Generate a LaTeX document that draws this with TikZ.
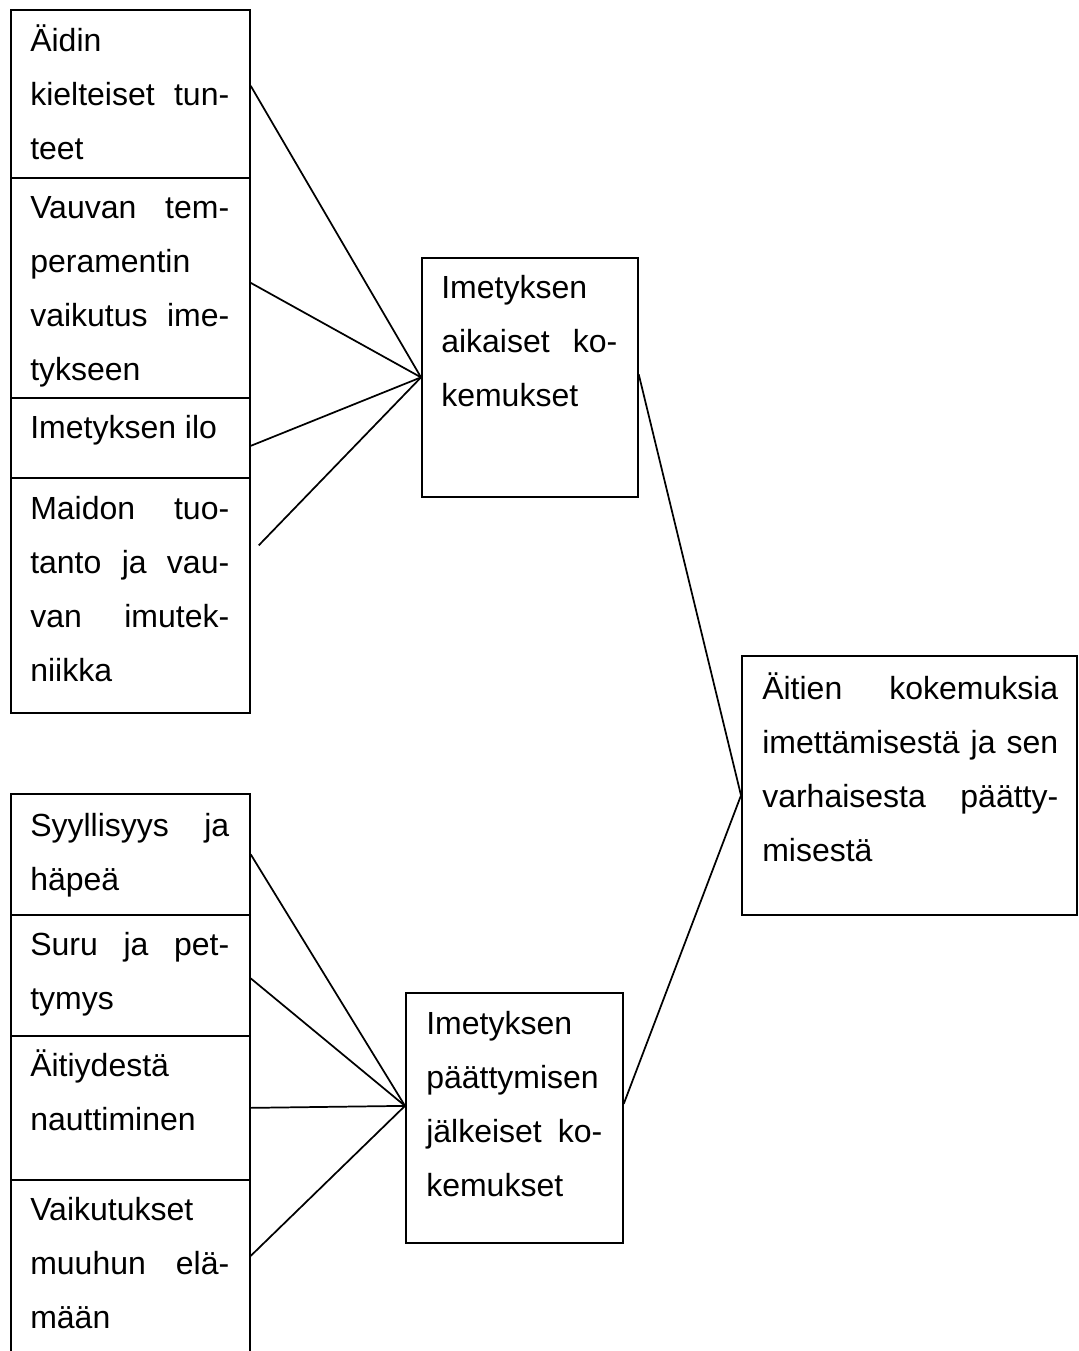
\documentclass[tikz,border=0pt]{standalone}
\usepackage{fontspec}
\setmainfont{Liberation Sans}
\usetikzlibrary{positioning, calc}
\newdimen\pxu \pxu=0.75pt
\pretolerance=10000
\hbadness=10000

\begin{document}
\begin{tikzpicture}[x=0.75pt, y=-0.75pt,
	cell/.style 2 args={draw, line width=1.3pt, inner sep=0pt, anchor=north west,
		minimum width=#1\pxu, minimum height=#2\pxu},
	txt/.style={anchor=base west, inner sep=0pt, text width=#1\pxu, align=justify,
		font=\fontsize{24}{40.5}\selectfont},
	link/.style={line width=1.3pt}]
	\useasboundingbox (0,0) rectangle (1078,1351);
	% first group, boxes stacked
	\node[cell={239}{168}] (kielB) at (10,9) {};
	\node[cell={239}{220}] (tempB) at (10,177) {};
	\node[cell={239}{80}] (iloB) at (10,397) {};
	\node[cell={239}{235}] (maitoB) at (10,477) {};
	\node[txt=199] (kiel) at ($(kielB.north west)+(20,43)$) {Äidin\newline kielteiset tun-\linebreak teet};
	\node[txt=199] (temp) at ($(tempB.north west)+(20,42)$) {Vauvan tem-\linebreak peramentin\newline vaikutus ime-\linebreak tykseen};
	\node[txt=199] (ilo) at ($(iloB.north west)+(20,41)$) {Imetyksen ilo};
	\node[txt=199] (maito) at ($(maitoB.north west)+(20,42)$) {Maidon tuo-\linebreak tanto ja vau-\linebreak van imutek-\linebreak niikka};
	% second group
	\node[cell={239}{121}] (syyB) at (10,793) {};
	\node[cell={239}{121}] (suruB) at (10,914) {};
	\node[cell={239}{144}] (aitiB) at (10,1035) {};
	\node[cell={239}{190}] (vaikB) at (10,1179) {};
	\node[txt=199] (syy) at ($(syyB.north west)+(20,43)$) {Syyllisyys ja\linebreak häpeä};
	\node[txt=199] (suru) at ($(suruB.north west)+(20,41)$) {Suru ja pet-\linebreak tymys};
	\node[txt=199] (aiti) at ($(aitiB.north west)+(20,41)$) {Äitiydestä\newline nauttiminen};
	\node[txt=199] (vaik) at ($(vaikB.north west)+(20,41)$) {Vaikutukset\newline muuhun elä-\linebreak mään};
	% middle boxes
	\node[cell={216}{239}] (aikB) at (421,257) {};
	\node[txt=176] (aik) at ($(aikB.north west)+(20,42)$) {Imetyksen\newline aikaiset ko-\linebreak kemukset};
	\node[cell={217}{250}] (jalkB) at (405,992) {};
	\node[txt=176] (jalk) at ($(jalkB.north west)+(21,42)$) {Imetyksen\newline päättymisen\newline jälkeiset ko-\linebreak kemukset};
	% main theme
	\node[cell={335}{259}] (mainB) at (741,655) {};
	\node[txt=296] (main) at ($(mainB.north west)+(21,44)$) {Äitien kokemuksia\linebreak imettämisestä ja sen\linebreak varhaisesta päätty-\linebreak misestä};
	% meeting points
	\coordinate (jalkIn) at ($(jalkB.west)+(0,-12)$);
	\coordinate (jalkOut) at ($(jalkB.east)+(0,-14)$);
	\coordinate (mainIn) at ($(mainB.west)+(0,10)$);
	% connectors
	\draw[link] ($(kielB.east)+(0,-8)$) -- (aikB.west);
	\draw[link] ($(tempB.east)+(0,-5)$) -- (aikB.west);
	\draw[link] ($(iloB.east)+(0,8)$) -- (aikB.west);
	\draw[link] ($(maitoB.east)+(8,-50)$) -- (aikB.west);
	\draw[link] ($(aikB.east)+(0,-3)$) -- (mainIn);
	\draw[link] (syyB.east) -- (jalkIn);
	\draw[link] ($(suruB.east)+(0,3)$) -- (jalkIn);
	\draw[link] (aitiB.east) -- (jalkIn);
	\draw[link] ($(vaikB.east)+(0,-19)$) -- (jalkIn);
	\draw[link] (jalkOut) -- (mainIn);
\end{tikzpicture}
\end{document}
